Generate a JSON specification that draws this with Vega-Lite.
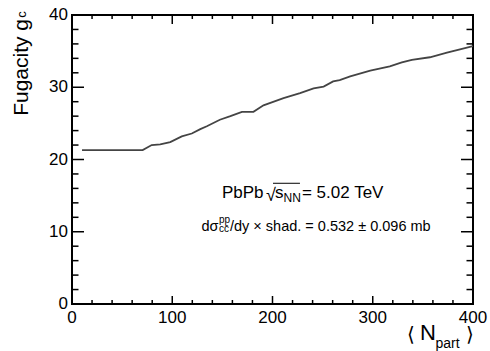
{
  "$schema": "https://vega.github.io/schema/vega-lite/v6.json",
  "width": 401,
  "height": 289,
  "autosize": "none",
  "padding": {"left": 72, "top": 15, "right": 17, "bottom": 47},
  "background": "white",
  "config": {
    "view": {"stroke": "black", "strokeWidth": 2},
    "font": "Liberation Sans",
    "text": {"font": "Liberation Sans", "color": "black", "align": "left", "baseline": "alphabetic"}
  },
  "datasets": {
    "curve": [
      {"npart": 10, "g": 21.3},
      {"npart": 70.5, "g": 21.3},
      {"npart": 79.5, "g": 22.0},
      {"npart": 88, "g": 22.1},
      {"npart": 98, "g": 22.4},
      {"npart": 109.5, "g": 23.2},
      {"npart": 119.5, "g": 23.6},
      {"npart": 128, "g": 24.2},
      {"npart": 134.5, "g": 24.6},
      {"npart": 147.5, "g": 25.5},
      {"npart": 158, "g": 26.0},
      {"npart": 169.5, "g": 26.6},
      {"npart": 181, "g": 26.6},
      {"npart": 191, "g": 27.5},
      {"npart": 211, "g": 28.5},
      {"npart": 227.5, "g": 29.2},
      {"npart": 241, "g": 29.85},
      {"npart": 251, "g": 30.1},
      {"npart": 260.5, "g": 30.8},
      {"npart": 267, "g": 31.0},
      {"npart": 277.5, "g": 31.5},
      {"npart": 297.5, "g": 32.3},
      {"npart": 317, "g": 32.9},
      {"npart": 329, "g": 33.45},
      {"npart": 339, "g": 33.8},
      {"npart": 357, "g": 34.15},
      {"npart": 374, "g": 34.8},
      {"npart": 387, "g": 35.25},
      {"npart": 400, "g": 35.7}
    ],
    "xmajor": [{"npart": 0, "label": "0"}, {"npart": 100, "label": "100"}, {"npart": 200, "label": "200"}, {"npart": 300, "label": "300"}, {"npart": 400, "label": "400"}],
    "xminor": [{"npart": 20}, {"npart": 40}, {"npart": 60}, {"npart": 80}, {"npart": 120}, {"npart": 140}, {"npart": 160}, {"npart": 180}, {"npart": 220}, {"npart": 240}, {"npart": 260}, {"npart": 280}, {"npart": 320}, {"npart": 340}, {"npart": 360}, {"npart": 380}],
    "ymajor": [{"g": 0, "label": "0"}, {"g": 10, "label": "10"}, {"g": 20, "label": "20"}, {"g": 30, "label": "30"}, {"g": 40, "label": "40"}],
    "yminor": [{"g": 2}, {"g": 4}, {"g": 6}, {"g": 8}, {"g": 12}, {"g": 14}, {"g": 16}, {"g": 18}, {"g": 22}, {"g": 24}, {"g": 26}, {"g": 28}, {"g": 32}, {"g": 34}, {"g": 36}, {"g": 38}]
  },
  "layer": [
    {
      "data": {"name": "curve"},
      "mark": {"type": "line", "color": "#444444", "strokeWidth": 1.8, "clip": true},
      "encoding": {
        "x": {"field": "npart", "type": "quantitative", "scale": {"domain": [0, 400], "nice": false, "zero": false}, "axis": null},
        "y": {"field": "g", "type": "quantitative", "scale": {"domain": [0, 40], "nice": false, "zero": false}, "axis": null}
      }
    },
    {
      "data": {"name": "xmajor"},
      "mark": {"type": "tick", "orient": "vertical", "size": 16, "thickness": 1.5, "color": "black", "opacity": 1, "clip": true},
      "encoding": {"x": {"field": "npart", "type": "quantitative", "axis": null}, "y": {"datum": 0, "type": "quantitative", "axis": null}}
    },
    {
      "data": {"name": "xminor"},
      "mark": {"type": "tick", "orient": "vertical", "size": 8, "thickness": 1.5, "color": "black", "opacity": 1, "clip": true},
      "encoding": {"x": {"field": "npart", "type": "quantitative", "axis": null}, "y": {"datum": 0, "type": "quantitative", "axis": null}}
    },
    {
      "data": {"name": "xmajor"},
      "mark": {"type": "tick", "orient": "vertical", "size": 18, "thickness": 1.5, "color": "black", "opacity": 1, "clip": true},
      "encoding": {"x": {"field": "npart", "type": "quantitative", "axis": null}, "y": {"datum": 40, "type": "quantitative", "axis": null}}
    },
    {
      "data": {"name": "xminor"},
      "mark": {"type": "tick", "orient": "vertical", "size": 8, "thickness": 1.5, "color": "black", "opacity": 1, "clip": true},
      "encoding": {"x": {"field": "npart", "type": "quantitative", "axis": null}, "y": {"datum": 40, "type": "quantitative", "axis": null}}
    },
    {
      "data": {"name": "ymajor"},
      "mark": {"type": "tick", "orient": "horizontal", "size": 24, "thickness": 1.5, "color": "black", "opacity": 1, "clip": true},
      "encoding": {"y": {"field": "g", "type": "quantitative", "axis": null}, "x": {"datum": 0, "type": "quantitative", "axis": null}}
    },
    {
      "data": {"name": "yminor"},
      "mark": {"type": "tick", "orient": "horizontal", "size": 13, "thickness": 1.5, "color": "black", "opacity": 1, "clip": true},
      "encoding": {"y": {"field": "g", "type": "quantitative", "axis": null}, "x": {"datum": 0, "type": "quantitative", "axis": null}}
    },
    {
      "data": {"name": "ymajor"},
      "mark": {"type": "tick", "orient": "horizontal", "size": 24, "thickness": 1.5, "color": "black", "opacity": 1, "clip": true},
      "encoding": {"y": {"field": "g", "type": "quantitative", "axis": null}, "x": {"datum": 400, "type": "quantitative", "axis": null}}
    },
    {
      "data": {"name": "yminor"},
      "mark": {"type": "tick", "orient": "horizontal", "size": 13, "thickness": 1.5, "color": "black", "opacity": 1, "clip": true},
      "encoding": {"y": {"field": "g", "type": "quantitative", "axis": null}, "x": {"datum": 400, "type": "quantitative", "axis": null}}
    },
    {
      "data": {"name": "xmajor"},
      "mark": {"type": "text", "fontSize": 17, "align": "center", "baseline": "top", "dy": 6},
      "encoding": {"text": {"field": "label"}, "x": {"field": "npart", "type": "quantitative", "axis": null}, "y": {"datum": 0, "type": "quantitative", "axis": null}}
    },
    {
      "data": {"name": "ymajor"},
      "mark": {"type": "text", "fontSize": 17, "align": "right", "baseline": "middle", "dx": -4},
      "encoding": {"text": {"field": "label"}, "y": {"field": "g", "type": "quantitative", "axis": null}, "x": {"datum": 0, "type": "quantitative", "axis": null}}
    },
    {
      "data": {"values": [{"t": "Fugacity g"}]},
      "mark": {"type": "text", "fontSize": 21, "angle": 270, "align": "right", "baseline": "alphabetic"},
      "encoding": {"text": {"field": "t"}, "x": {"datum": -43.4, "type": "quantitative", "axis": null}, "y": {"datum": 39.45, "type": "quantitative", "axis": null}}
    },
    {
      "data": {"values": [{"t": "c"}]},
      "mark": {"type": "text", "fontSize": 13, "angle": 270, "align": "center", "baseline": "middle"},
      "encoding": {"text": {"field": "t"}, "x": {"datum": -49.9, "type": "quantitative", "axis": null}, "y": {"datum": 40.07, "type": "quantitative", "axis": null}}
    },
    {
      "data": {"values": [{"t": "⟨"}]},
      "mark": {"type": "text", "font": "DejaVu Sans", "fontSize": 20, "baseline": "middle"},
      "encoding": {"text": {"field": "t"}, "x": {"datum": 334.2, "type": "quantitative", "axis": null}, "y": {"datum": -4.29, "type": "quantitative", "axis": null}}
    },
    {
      "data": {"values": [{"t": "N"}]},
      "mark": {"type": "text", "fontSize": 22},
      "encoding": {"text": {"field": "t"}, "x": {"datum": 347.1, "type": "quantitative", "axis": null}, "y": {"datum": -4.98, "type": "quantitative", "axis": null}}
    },
    {
      "data": {"values": [{"t": "part"}]},
      "mark": {"type": "text", "fontSize": 14},
      "encoding": {"text": {"field": "t"}, "x": {"datum": 362.6, "type": "quantitative", "axis": null}, "y": {"datum": -6.09, "type": "quantitative", "axis": null}}
    },
    {
      "data": {"values": [{"t": "⟩"}]},
      "mark": {"type": "text", "font": "DejaVu Sans", "fontSize": 20, "baseline": "middle"},
      "encoding": {"text": {"field": "t"}, "x": {"datum": 393, "type": "quantitative", "axis": null}, "y": {"datum": -4.29, "type": "quantitative", "axis": null}}
    },
    {
      "data": {"values": [{"t": "PbPb"}]},
      "mark": {"type": "text", "fontSize": 17},
      "encoding": {"text": {"field": "t"}, "x": {"datum": 149.6, "type": "quantitative", "axis": null}, "y": {"datum": 14.74, "type": "quantitative", "axis": null}}
    },
    {
      "data": {"values": [{"t": "√"}]},
      "mark": {"type": "text", "fontSize": 18},
      "encoding": {"text": {"field": "t"}, "x": {"datum": 193.5, "type": "quantitative", "axis": null}, "y": {"datum": 14.26, "type": "quantitative", "axis": null}}
    },
    {
      "data": {"values": [{"a": 200.5, "b": 227.4, "v": 16.71}]},
      "mark": {"type": "rule", "color": "black", "strokeWidth": 1},
      "encoding": {"x": {"field": "a", "type": "quantitative", "axis": null}, "x2": {"field": "b"}, "y": {"field": "v", "type": "quantitative", "axis": null}}
    },
    {
      "data": {"values": [{"t": "s"}]},
      "mark": {"type": "text", "fontSize": 17},
      "encoding": {"text": {"field": "t"}, "x": {"datum": 202.5, "type": "quantitative", "axis": null}, "y": {"datum": 14.74, "type": "quantitative", "axis": null}}
    },
    {
      "data": {"values": [{"t": "NN"}]},
      "mark": {"type": "text", "fontSize": 12},
      "encoding": {"text": {"field": "t"}, "x": {"datum": 211, "type": "quantitative", "axis": null}, "y": {"datum": 14.12, "type": "quantitative", "axis": null}}
    },
    {
      "data": {"values": [{"t": "= 5.02 TeV"}]},
      "mark": {"type": "text", "fontSize": 17},
      "encoding": {"text": {"field": "t"}, "x": {"datum": 229.4, "type": "quantitative", "axis": null}, "y": {"datum": 14.74, "type": "quantitative", "axis": null}}
    },
    {
      "data": {"values": [{"t": "dσ"}]},
      "mark": {"type": "text", "fontSize": 14.5},
      "encoding": {"text": {"field": "t"}, "x": {"datum": 129.2, "type": "quantitative", "axis": null}, "y": {"datum": 10.10, "type": "quantitative", "axis": null}}
    },
    {
      "data": {"values": [{"t": "pp"}]},
      "mark": {"type": "text", "fontSize": 10},
      "encoding": {"text": {"field": "t"}, "x": {"datum": 146.6, "type": "quantitative", "axis": null}, "y": {"datum": 11.21, "type": "quantitative", "axis": null}}
    },
    {
      "data": {"values": [{"t": "cc̄"}]},
      "mark": {"type": "text", "fontSize": 10},
      "encoding": {"text": {"field": "t"}, "x": {"datum": 146.6, "type": "quantitative", "axis": null}, "y": {"datum": 9.90, "type": "quantitative", "axis": null}}
    },
    {
      "data": {"values": [{"t": "/dy × shad. = 0.532 ± 0.096 mb"}]},
      "mark": {"type": "text", "fontSize": 14.5},
      "encoding": {"text": {"field": "t"}, "x": {"datum": 157.6, "type": "quantitative", "axis": null}, "y": {"datum": 10.10, "type": "quantitative", "axis": null}}
    }
  ]
}
